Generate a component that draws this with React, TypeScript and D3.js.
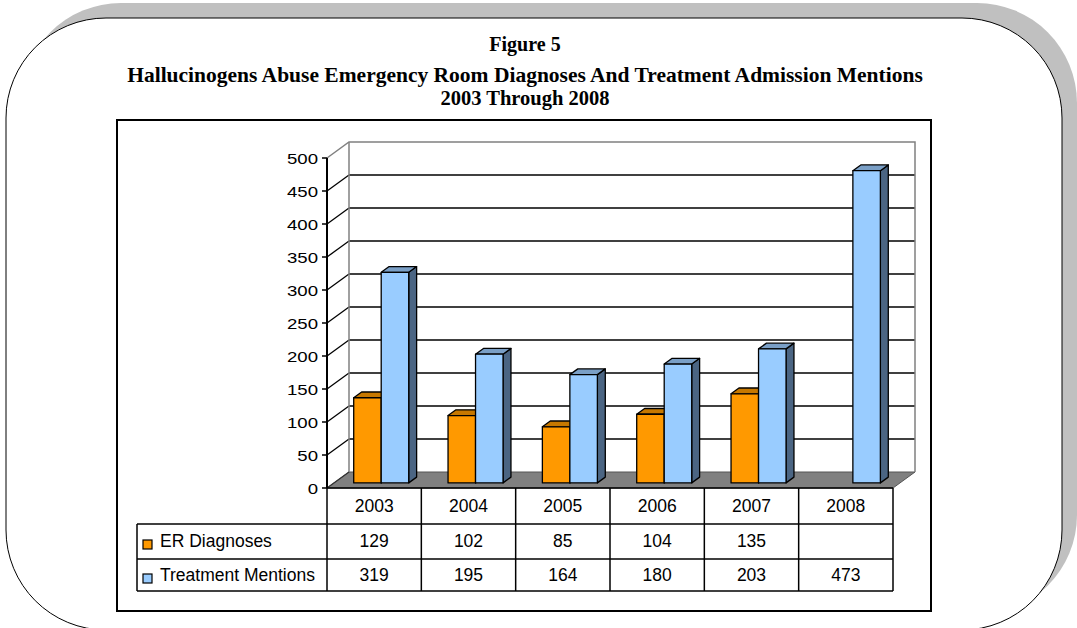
import React from 'react';
import * as d3 from 'd3';

const years = ['2003', '2004', '2005', '2006', '2007', '2008'];
const seriesNames = ['ER Diagnoses', 'Treatment Mentions'];
const erDiagnoses: (number | null)[] = [129, 102, 85, 104, 135, null];
const treatmentMentions: (number | null)[] = [319, 195, 164, 180, 203, 473];
const yTicks = [0, 50, 100, 150, 200, 250, 300, 350, 400, 450, 500];
const titleLines = [
  'Figure 5',
  'Hallucinogens Abuse Emergency Room Diagnoses And Treatment Admission Mentions',
  '2003 Through 2008'
];

const colors = {
  front: ['#FF9900', '#99CCFF'],
  top: ['#C77800', '#7A9FC6'],
  side: ['#9E5F00', '#4B6583']
};

const W = 1077;
const H = 628;
const SANS = '"Liberation Sans", Arial, sans-serif';
const SERIF = '"Liberation Serif", "Times New Roman", serif';

export default function App() {
  // plot geometry
  const x0 = 327;
  const x1 = 893;
  const depth = { dx: 22, dy: -16 };
  const y = d3.scaleLinear().domain([0, 500]).range([488, 158]);
  const xBand = d3.scaleBand<string>().domain(years).range([x0, x1]);
  const barW = 27.5;
  const inner = d3.scaleBand<string>().domain(seriesNames).range([0, barW * 2]);
  const zFront = 0.32;
  const zBack = 0.68;

  const data = [erDiagnoses, treatmentMentions];

  // table geometry
  const legendX = 137;
  const rowTop = [488, 524, 559];
  const rowBottom = 591;

  const bars: React.ReactNode[] = [];
  years.forEach((yr, i) => {
    const cx = (xBand(yr) as number) + xBand.bandwidth() / 2;
    data.forEach((vals, s) => {
      const v = vals[i];
      if (v == null) return;
      const left = cx - barW + (inner(seriesNames[s]) as number) + depth.dx * zFront;
      const right = left + barW;
      const top = y(v) + depth.dy * zFront;
      const bottom = y(0) + depth.dy * zFront;
      const bx = depth.dx * (zBack - zFront);
      const by = depth.dy * (zBack - zFront);
      bars.push(
        <g key={`${yr}-${s}`} stroke="#000" strokeWidth={1.3} strokeLinejoin="round">
          <polygon
            points={`${right},${top} ${right + bx},${top + by} ${right + bx},${bottom + by} ${right},${bottom}`}
            fill={colors.side[s]}
          />
          <polygon
            points={`${left},${top} ${left + bx},${top + by} ${right + bx},${top + by} ${right},${top}`}
            fill={colors.top[s]}
          />
          <rect x={left} y={top} width={barW} height={bottom - top} fill={colors.front[s]} />
        </g>
      );
    });
  });

  const r = 100;
  const box = { x: 6, y: 18, w: 1056, h: 612 };

  return (
    <svg width={W} height={H} style={{ position: 'absolute', left: 0, top: 0, background: '#fff' }}>
      {/* outer rounded frame with shadow */}
      <rect x={box.x + 15} y={box.y - 15} width={box.w} height={box.h} rx={r} ry={r} fill="#C0C0C0" />
      <rect x={box.x} y={box.y} width={box.w} height={box.h} rx={r} ry={r} fill="#fff" stroke="#000" strokeWidth={1} />

      {/* title */}
      {titleLines.map((t, i) => (
        <text
          key={i}
          x={525}
          y={[51, 82, 105][i]}
          textAnchor="middle"
          fontFamily={SERIF}
          fontWeight="bold"
          fontSize={[20, 21.5, 20.5][i]}
          fill="#000"
        >
          {t}
        </text>
      ))}

      {/* chart area border */}
      <rect x={117} y={120} width={814} height={491} fill="#fff" stroke="#000" strokeWidth={2} />

      {/* floor */}
      <polygon
        points={`${x0},${y(0)} ${x0 + depth.dx},${y(0) + depth.dy} ${x1 + depth.dx},${y(0) + depth.dy} ${x1},${y(0)}`}
        fill="#808080"
        stroke="#555"
        strokeWidth={1}
      />

      {/* gridlines on side and back walls */}
      {yTicks.filter(t => t > 0 && t < 500).map(t => (
        <g key={t} stroke="#000" strokeWidth={1.3}>
          <line x1={x0} y1={y(t)} x2={x0 + depth.dx} y2={y(t) + depth.dy} />
          <line x1={x0 + depth.dx} y1={y(t) + depth.dy} x2={x1 + depth.dx} y2={y(t) + depth.dy} />
        </g>
      ))}
      {/* wall borders */}
      <g stroke="#808080" strokeWidth={1.5} fill="none">
        <polyline
          points={`${x0},${y(500)} ${x0 + depth.dx},${y(500) + depth.dy} ${x1 + depth.dx},${y(500) + depth.dy} ${x1 + depth.dx},${y(0) + depth.dy}`}
        />
        <line x1={x0 + depth.dx} y1={y(500) + depth.dy} x2={x0 + depth.dx} y2={y(0) + depth.dy} />
      </g>
      <line x1={x0} y1={y(0)} x2={x0 + depth.dx} y2={y(0) + depth.dy} stroke="#333" strokeWidth={1.3} />

      {/* bars */}
      {bars}

      {/* y axis */}
      <line x1={x0} y1={y(500)} x2={x0} y2={y(0)} stroke="#000" strokeWidth={2} />
      {yTicks.map(t => (
        <g key={t}>
          <line x1={x0 - 5} y1={y(t)} x2={x0} y2={y(t)} stroke="#000" strokeWidth={1.5} />
          <text
            transform={`translate(${x0 - 9},${y(t) + 5.5}) scale(1.2,1)`}
            textAnchor="end"
            fontFamily={SANS}
            fontSize={15.5}
            fill="#000"
          >
            {t}
          </text>
        </g>
      ))}

      {/* data table */}
      <g stroke="#000" strokeWidth={1.5}>
        <line x1={x0} y1={rowTop[0]} x2={x1} y2={rowTop[0]} />
        <line x1={legendX} y1={rowTop[1]} x2={x1} y2={rowTop[1]} />
        <line x1={legendX} y1={rowTop[2]} x2={x1} y2={rowTop[2]} />
        <line x1={legendX} y1={rowBottom} x2={x1} y2={rowBottom} />
        <line x1={legendX} y1={rowTop[1]} x2={legendX} y2={rowBottom} />
        {years.map(yr => (
          <line key={yr} x1={xBand(yr) as number} y1={rowTop[0]} x2={xBand(yr) as number} y2={rowBottom} />
        ))}
        <line x1={x1} y1={rowTop[0]} x2={x1} y2={rowBottom} />
      </g>
      {years.map(yr => (
        <text
          key={yr}
          x={(xBand(yr) as number) + xBand.bandwidth() / 2}
          y={512}
          textAnchor="middle"
          fontFamily={SANS}
          fontSize={17.5}
        >
          {yr}
        </text>
      ))}
      {seriesNames.map((name, s) => (
        <g key={name}>
          <rect x={143} y={[540, 574][s]} width={9} height={9} fill={colors.front[s]} stroke="#000" strokeWidth={1.2} />
          <text x={160} y={[547, 581][s]} fontFamily={SANS} fontSize={17.5}>
            {name}
          </text>
          {years.map((yr, i) => {
            const v = data[s][i];
            return v == null ? null : (
              <text
                key={yr}
                x={(xBand(yr) as number) + xBand.bandwidth() / 2}
                y={[547, 581][s]}
                textAnchor="middle"
                fontFamily={SANS}
                fontSize={17.5}
              >
                {v}
              </text>
            );
          })}
        </g>
      ))}
    </svg>
  );
}
